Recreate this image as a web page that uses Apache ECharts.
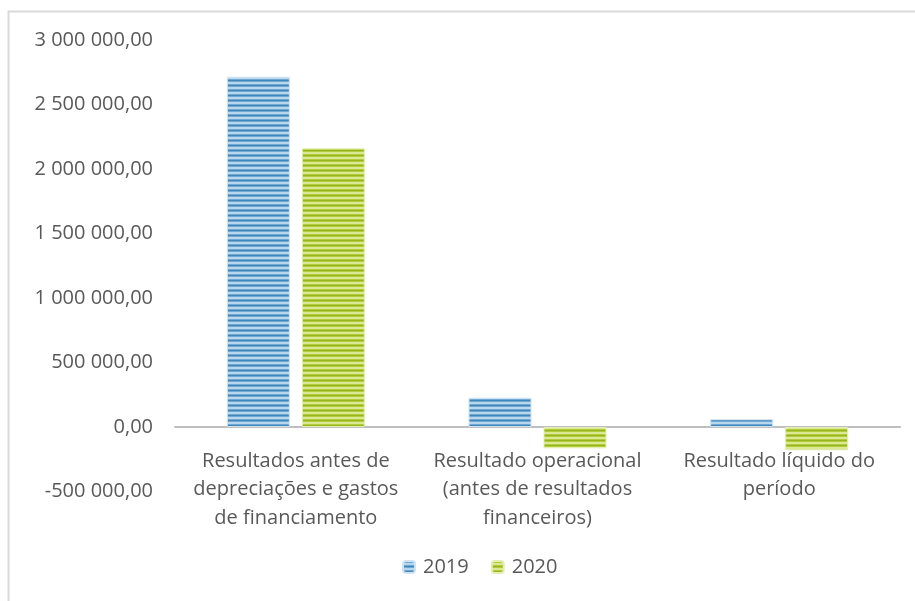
<!DOCTYPE html>
<html>
<head>
<meta charset="utf-8">
<script src="https://cdn.jsdelivr.net/npm/echarts@6/dist/echarts.min.js"></script>
<style>
  html, body { margin: 0; padding: 0; background: #fff; }
  #chart { width: 915px; height: 601px; }
</style>
</head>
<body>
<div id="chart"></div>
<script>
// categorias e valores
var categorias = [
  'Resultados antes de\ndepreciações e gastos\nde financiamento',
  'Resultado operacional\n(antes de resultados\nfinanceiros)',
  'Resultado líquido do\nperíodo'
];
var anos = ['2019', '2020'];
var valores2019 = [2715000, 227000, 60000];
var valores2020 = [2160000, -165000, -180000];

// listras horizontais
function listras(escuro, medio, claro) {
  var c = document.createElement('canvas');
  c.width = 4;
  c.height = 5;
  var ctx = c.getContext('2d');
  var cores = [escuro, medio, claro, claro, medio];
  for (var i = 0; i < cores.length; i++) {
    ctx.fillStyle = cores[i];
    ctx.fillRect(0, i, 4, 1);
  }
  return { image: c, repeat: 'repeat' };
}

function fmt(v) {
  var neg = v < 0;
  var s = Math.abs(v).toFixed(0).replace(/\B(?=(\d{3})+(?!\d))/g, ' ');
  return (neg ? '-' : '') + s + ',00';
}

var fonte = '"Open Sans", Lato, sans-serif';
var corTexto = '#595959';

var myEcharts = echarts.init(document.getElementById('chart'), null, { renderer: 'canvas' });
myEcharts.setOption({
  animation: false,
  backgroundColor: '#fff',
  textStyle: { fontFamily: fonte },
  graphic: [{
    type: 'rect',
    shape: { x: 8.5, y: 11.5, width: 1000, height: 1000 },
    style: { fill: 'none', stroke: '#d9d9d9', lineWidth: 2 },
    silent: true
  }],
  grid: { left: 175, right: 15, top: 40, bottom: 109.5 },
  legend: {
    data: anos,
    bottom: 19,
    left: 397,
    itemWidth: 12,
    itemHeight: 12,
    itemGap: 22,
    textStyle: { color: corTexto, fontSize: 20, fontFamily: fonte, padding: [0, 0, 0, 3] }
  },
  xAxis: {
    type: 'category',
    data: categorias,
    offset: -64.5,
    axisLine: { onZero: false, lineStyle: { color: '#bfbfbf', width: 2 } },
    axisTick: { show: false },
    axisLabel: {
      color: corTexto, fontSize: 20, fontFamily: fonte,
      lineHeight: 28.5, margin: 20, interval: 0
    }
  },
  yAxis: {
    type: 'value',
    min: -500000,
    max: 3000000,
    interval: 500000,
    axisLine: { show: false },
    axisTick: { show: false },
    splitLine: { show: false },
    axisLabel: {
      color: corTexto, fontSize: 20, fontFamily: fonte, margin: 22,
      formatter: fmt
    }
  },
  series: [
    {
      name: anos[0],
      type: 'bar',
      data: valores2019,
      barWidth: 63,
      barGap: '19%',
      itemStyle: {
        color: listras('#3f85b8', '#6fa8d2', '#b9d7ec'),
        borderColor: '#cfe3f2',
        borderWidth: 1
      }
    },
    {
      name: anos[1],
      type: 'bar',
      data: valores2020,
      barWidth: 63,
      itemStyle: {
        color: listras('#96b41c', '#b3cc3e', '#dbe995'),
        borderColor: '#e3eeb0',
        borderWidth: 1
      }
    }
  ]
});
</script>
</body>
</html>
